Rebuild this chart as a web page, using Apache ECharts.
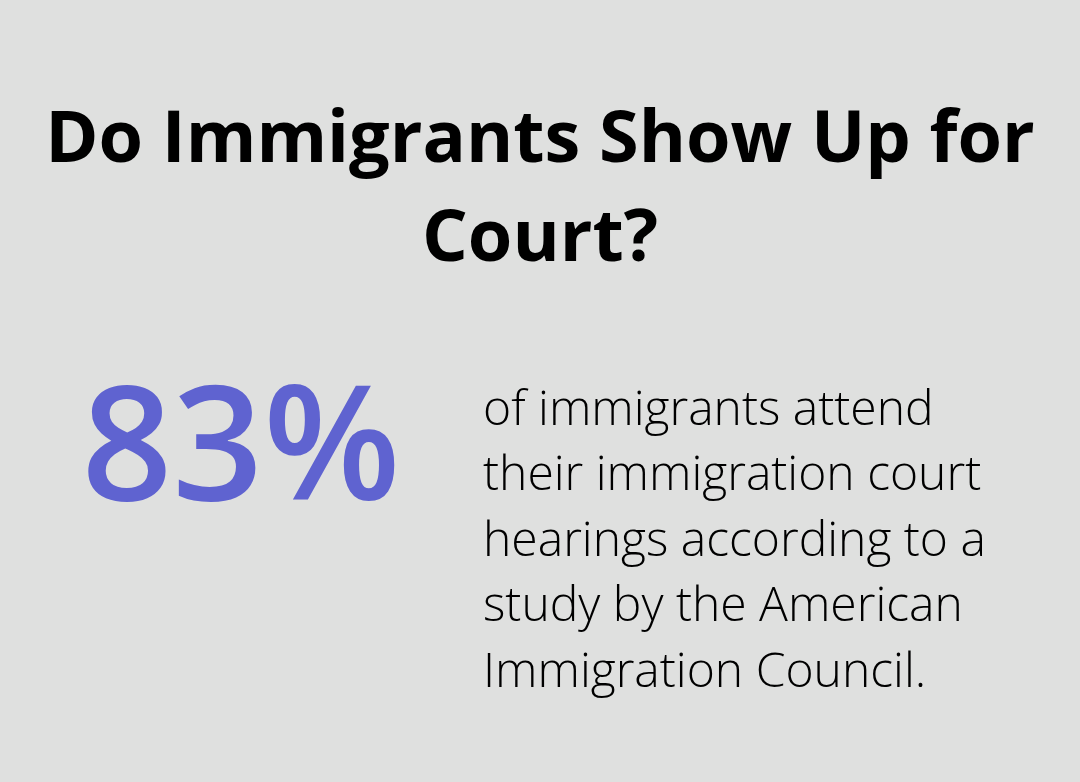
<!DOCTYPE html>
<html><head><meta charset="utf-8">
<script src="https://cdn.jsdelivr.net/npm/echarts@6/dist/echarts.min.js"></script>
<style>html,body{margin:0;padding:0;background:#dfe0df}#c{width:1080px;height:782px}</style>
</head><body><div id="c"></div>
<script>
const titleLines = ["Do Immigrants Show Up for", "Court?"];
const statValue = 83;
const statUnit = "%";
const descLines = ["of immigrants attend", "their immigration court", "hearings according to a", "study by the American", "Immigration Council."];

const chart = echarts.init(document.getElementById('c'));
const elements = [];
titleLines.forEach((t, i) => elements.push({
  type: 'text', x: 540, y: 141 + i * 99,
  style: {text: t, font: 'bold 72px "Open Sans"', fill: '#000', textAlign: 'center', textVerticalAlign: 'middle'}
}));
elements.push({
  type: 'text', x: 241, y: 455,
  style: {text: statValue + statUnit, font: '600 159px "Open Sans"', fill: '#5f63d0', textAlign: 'center', textVerticalAlign: 'middle'}
});
descLines.forEach((t, i) => elements.push({
  type: 'text', x: 483, y: 411 + i * 65.5,
  style: {text: t, font: '300 48px "Open Sans"', fill: '#000', textVerticalAlign: 'middle'}
}));
chart.setOption({backgroundColor: '#dfe0df', graphic: {elements}});
</script></body></html>
